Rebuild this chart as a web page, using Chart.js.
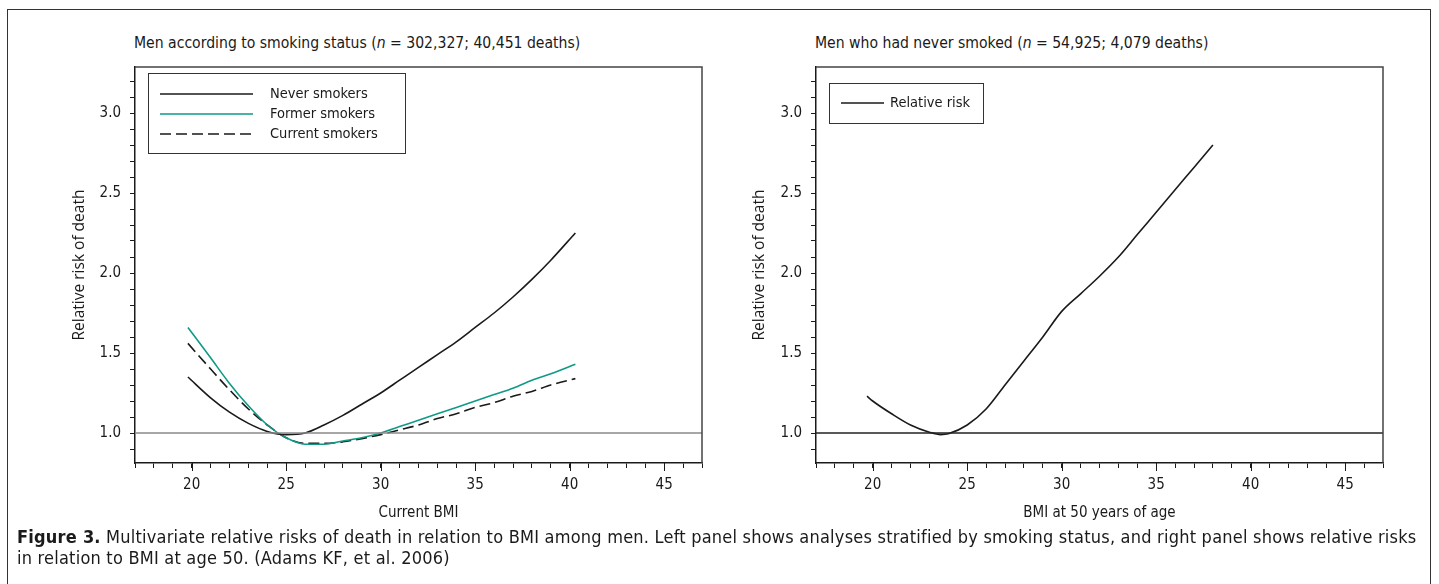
<!DOCTYPE html>
<html>
<head>
<meta charset="utf-8">
<script src="https://cdn.jsdelivr.net/npm/chart.js@4.4.1/dist/chart.umd.min.js"></script>
<style>
  html, body { margin: 0; padding: 0; background: #fff; }
  body {
    width: 1439px; height: 584px; position: relative; overflow: hidden;
    font-family: "Liberation Sans Narrow", "DejaVu Sans Condensed", "Liberation Sans", sans-serif;
    color: #1a1a1a;
  }
  .frame { position: absolute; left: 7px; top: 9px; width: 1424px; height: 620px; border: 1.5px solid #333; box-sizing: border-box; }
  .panel-title { position: absolute; top: 33px; font-size: 15.6px; line-height: 20px; white-space: nowrap; }
  .chart-box { position: absolute; top: 0; height: 530px; }
  .caption { position: absolute; left: 17px; top: 526px; font-size: 18px; letter-spacing: 0.22px; line-height: 21px; white-space: nowrap; }
  .caption b { font-weight: bold; }
</style>
</head>
<body>
<div class="frame"></div>

<div class="panel-title" style="left:134px">Men according to smoking status (<i>n</i> = 302,327; 40,451 deaths)</div>
<div class="panel-title" style="left:815px">Men who had never smoked (<i>n</i> = 54,925; 4,079 deaths)</div>

<div class="chart-box" style="left:0; width:720px"><canvas id="leftChart"></canvas></div>
<div class="chart-box" style="left:720px; width:719px"><canvas id="rightChart"></canvas></div>

<div class="caption"><b>Figure 3.</b> Multivariate relative risks of death in relation to BMI among men. Left panel shows analyses stratified by smoking status, and right panel shows relative risks<br>in relation to BMI at age 50. (Adams KF, et al. 2006)</div>

<script>
// left panel: current BMI vs relative risk, by smoking status
const leftBmi = [19.8, 21, 22, 23, 24, 25, 26, 27, 28, 29, 30, 31, 32, 33, 34, 35, 36, 37, 38, 39, 40.3];
const neverRR = [1.35, 1.22, 1.13, 1.06, 1.01, 0.99, 1.0, 1.05, 1.11, 1.18, 1.25, 1.33, 1.41, 1.49, 1.57, 1.66, 1.75, 1.85, 1.96, 2.08, 2.25];
const formerRR = [1.66, 1.47, 1.31, 1.17, 1.05, 0.97, 0.93, 0.93, 0.95, 0.97, 1.0, 1.04, 1.08, 1.12, 1.16, 1.2, 1.24, 1.28, 1.33, 1.37, 1.43];
const currentRR = [1.56, 1.4, 1.27, 1.15, 1.05, 0.97, 0.935, 0.935, 0.945, 0.965, 0.99, 1.02, 1.05, 1.09, 1.12, 1.16, 1.19, 1.23, 1.26, 1.3, 1.34];

// right panel: BMI at age 50, never smokers
const rightBmi = [19.7, 20, 21, 22, 23, 23.6, 24, 25, 26, 27, 28, 29, 30, 31, 32, 33, 34, 35, 36, 37, 38];
const rightRR = [1.23, 1.2, 1.12, 1.05, 1.005, 0.99, 0.995, 1.05, 1.15, 1.3, 1.45, 1.6, 1.76, 1.87, 1.98, 2.1, 2.24, 2.38, 2.52, 2.66, 2.8];

const refLine = [17, 47];   // x span of the RR = 1 reference line
const xTicks = [17, 18, 19, 20, 21, 22, 23, 24, 25, 26, 27, 28, 29, 30, 31, 32, 33, 34, 35, 36, 37, 38, 39, 40, 41, 42, 43, 44, 45, 46, 47];
const yTicks = [0.9, 1.0, 1.1, 1.2, 1.3, 1.4, 1.5, 1.6, 1.7, 1.8, 1.9, 2.0, 2.1, 2.2, 2.3, 2.4, 2.5, 2.6, 2.7, 2.8, 2.9, 3.0, 3.1, 3.2];

const condensed = '"Liberation Sans Narrow", "DejaVu Sans Condensed", "Liberation Sans", sans-serif';
const ink = '#1a1a1a';

const pts = (xs, ys) => xs.map((x, i) => ({ x: x, y: ys[i] }));

// frame round the plot area (top and right sides), longer ticks at labelled x values
const plotFrame = {
  id: 'plotFrame',
  afterDraw(chart) {
    const { ctx, chartArea: a, scales } = chart;
    ctx.save();
    ctx.strokeStyle = '#444';
    ctx.lineWidth = 1.5;
    ctx.beginPath();
    ctx.moveTo(a.left, a.top);
    ctx.lineTo(a.right, a.top);
    ctx.lineTo(a.right, a.bottom);
    ctx.stroke();
    ctx.strokeStyle = ink;
    ctx.lineWidth = 1;
    ctx.beginPath();
    xTicks.filter((v) => v % 5 === 0).forEach((v) => {
      const px = Math.round(scales.x.getPixelForValue(v)) + 0.5;
      ctx.moveTo(px, a.bottom);
      ctx.lineTo(px, a.bottom + 8);
    });
    ctx.stroke();
    ctx.restore();
  }
};

// boxed legend in the upper left corner of the plot
const boxLegend = {
  id: 'boxLegend',
  afterDraw(chart, args, o) {
    const { ctx, chartArea: a } = chart;
    const x = a.left + o.dx, y = a.top + o.dy;
    ctx.save();
    ctx.fillStyle = '#fff';
    ctx.fillRect(x, y, o.w, o.h);
    ctx.strokeStyle = '#333';
    ctx.lineWidth = 1;
    ctx.strokeRect(x + 0.5, y + 0.5, o.w, o.h);
    let row = 0;
    chart.data.datasets.forEach((ds) => {
      if (!ds.label) return;
      const ly = y + o.rows[row++];
      ctx.beginPath();
      ctx.setLineDash(ds.borderDash || []);
      ctx.strokeStyle = ds.borderColor;
      ctx.lineWidth = ds.borderWidth;
      ctx.moveTo(x + o.lineX, ly);
      ctx.lineTo(x + o.lineX + o.lineLen, ly);
      ctx.stroke();
      ctx.setLineDash([]);
      ctx.fillStyle = ink;
      ctx.font = '14.5px ' + condensed;
      ctx.textBaseline = 'middle';
      ctx.fillText(ds.label, x + o.textX, ly);
    });
    ctx.restore();
  }
};

function makeChart(id, datasets, cfg) {
  return new Chart(document.getElementById(id), {
    type: 'line',
    data: { datasets: datasets },
    plugins: [plotFrame, boxLegend],
    options: {
      responsive: true,
      maintainAspectRatio: false,
      animation: false,
      layout: { padding: { top: 67, right: cfg.padRight, left: 0, bottom: 0 } },
      elements: { point: { radius: 0 }, line: { tension: 0.4, cubicInterpolationMode: 'monotone' } },
      plugins: {
        legend: { display: false },
        tooltip: { enabled: false },
        boxLegend: cfg.legend
      },
      scales: {
        x: {
          type: 'linear',
          min: 17,
          max: 47,
          afterBuildTicks: (s) => { s.ticks = xTicks.map((v) => ({ value: v })); },
          afterFit: (s) => { s.height = 67; },
          grid: { drawOnChartArea: false, tickLength: 5, color: ink, tickWidth: 1 },
          border: { color: ink, width: 1.5 },
          ticks: {
            autoSkip: false, maxRotation: 0, padding: 8, color: ink,
            font: { family: condensed, size: 15 },
            callback: (v) => (v % 5 === 0 ? String(v) : '')
          },
          title: {
            display: true, text: cfg.xTitle, color: ink,
            font: { family: condensed, size: 15 },
            padding: { top: 0, bottom: 8 }
          }
        },
        y: {
          type: 'linear',
          min: 0.8125,
          max: 3.2875,
          afterBuildTicks: (s) => { s.ticks = yTicks.map((v) => ({ value: v })); },
          afterFit: (s) => { s.width = cfg.yWidth; },
          grid: { drawOnChartArea: false, tickLength: 5, color: ink, tickWidth: 1 },
          border: { color: ink, width: 1.5 },
          ticks: {
            autoSkip: false, padding: 9, color: ink,
            font: { family: condensed, size: 15 },
            callback: (v) => (Math.abs(v * 2 - Math.round(v * 2)) < 1e-6 ? v.toFixed(1) : '')
          },
          title: {
            display: true, text: 'Relative risk of death', color: ink,
            font: { family: '"Open Sans", sans-serif', size: 15.5 },
            padding: { top: cfg.yTitlePad, bottom: 0 }
          }
        }
      }
    }
  });
}

makeChart('leftChart', [
  { label: '', data: pts(refLine, [1, 1]), borderColor: '#8a8a8a', borderWidth: 1.5, tension: 0 },
  { label: 'Never smokers', data: pts(leftBmi, neverRR), borderColor: '#1a1a1a', borderWidth: 1.6 },
  { label: 'Former smokers', data: pts(leftBmi, formerRR), borderColor: '#0f9a87', borderWidth: 1.6 },
  { label: 'Current smokers', data: pts(leftBmi, currentRR), borderColor: '#1a1a1a', borderWidth: 1.6, borderDash: [11, 5] }
], {
  padRight: 18, yWidth: 135, yTitlePad: 70.7, xTitle: 'Current BMI',
  legend: { dx: 13, dy: 6, w: 257, h: 80, lineX: 12, lineLen: 93, textX: 122, rows: [21, 41, 61] }
});

makeChart('rightChart', [
  { label: '', data: pts(refLine, [1, 1]), borderColor: '#222', borderWidth: 1.3, tension: 0 },
  { label: 'Relative risk', data: pts(rightBmi, rightRR), borderColor: '#1a1a1a', borderWidth: 1.6 }
], {
  padRight: 56, yWidth: 96, yTitlePad: 30.7, xTitle: 'BMI at 50 years of age',
  legend: { dx: 13, dy: 16, w: 154, h: 40, lineX: 12, lineLen: 43, textX: 61, rows: [20] }
});
</script>
</body>
</html>
